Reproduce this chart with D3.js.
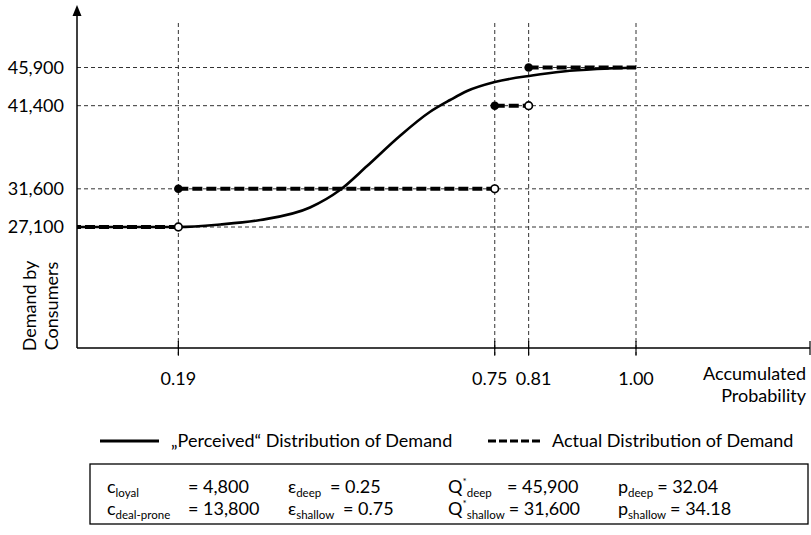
<!DOCTYPE html>
<html>
<head>
<meta charset="utf-8">
<script src="https://cdn.jsdelivr.net/npm/d3@7"></script>
<style>
  html, body { margin: 0; padding: 0; background: #fff; }
  svg { display: block; font-family: Lato, "Open Sans", sans-serif; }
</style>
</head>
<body>
<svg id="chart" width="811" height="535"></svg>
<script>
// ---- data ----
const yTicks = [27100, 31600, 41400, 45900];
const xTicks = [0.19, 0.75, 0.81, 1.00];
const perceivedX = [0, 0.19, 0.264, 0.335, 0.423, 0.476, 0.524, 0.582, 0.635, 0.671, 0.701, 0.750, 0.816, 0.871, 0.931, 1.00];
const perceivedY = [27100, 27100, 27395, 27925, 29400, 31460, 34290, 37830, 40655, 42070, 43130, 44190, 44960, 45430, 45720, 45900];
const actualSegments = [
  { x0: 0,    x1: 0.19, y: 27100, startDot: false, endOpen: true },
  { x0: 0.19, x1: 0.75, y: 31600, startDot: true,  endOpen: true },
  { x0: 0.75, x1: 0.81, y: 41400, startDot: true,  endOpen: true },
  { x0: 0.81, x1: 1.00, y: 45900, startDot: true,  endOpen: false }
];
const legendLabels = ["\u201EPerceived\u201C Distribution of Demand", "Actual Distribution of Demand"];
const paramRows = [
  [ {b:"c", sup:"", sub:"loyal", v:"= 4,800"}, {b:"\u03B5", sup:"", sub:"deep", v:"= 0.25"}, {b:"Q", sup:"*", sub:"deep", v:"= 45,900"}, {b:"p", sup:"", sub:"deep", v:"= 32.04"} ],
  [ {b:"c", sup:"", sub:"deal-prone", v:"= 13,800"}, {b:"\u03B5", sup:"", sub:"shallow", v:"= 0.75"}, {b:"Q", sup:"*", sub:"shallow", v:"= 31,600"}, {b:"p", sup:"", sub:"shallow", v:"= 34.18"} ]
];

// ---- layout ----
const svg = d3.select("#chart");
const axisX = 77, axisY = 348, rightEnd = 810, topEnd = 5;
const x = d3.scaleLinear().domain([0, 1]).range([71, 636]);
const y = d3.scaleLinear().domain([27100, 45900]).range([227, 67.5]);
const FS = 18;

svg.append("defs").append("clipPath").attr("id", "plotclip")
  .append("rect").attr("x", axisX).attr("y", 0).attr("width", rightEnd - axisX).attr("height", axisY);

// grid lines
const grid = svg.append("g").attr("stroke", "#333").attr("stroke-width", 1).attr("stroke-dasharray", "4,3");
grid.selectAll("line.h").data(yTicks).join("line")
  .attr("x1", axisX).attr("x2", 811).attr("y1", d => y(d)).attr("y2", d => y(d));
grid.selectAll("line.v").data(xTicks).join("line")
  .attr("x1", d => x(d)).attr("x2", d => x(d)).attr("y1", 23).attr("y2", 357);

// axes
svg.append("line").attr("x1", axisX).attr("x2", axisX).attr("y1", 12).attr("y2", axisY).attr("stroke", "#000").attr("stroke-width", 1.5);
svg.append("path").attr("d", `M${axisX},${topEnd} L${axisX-4.5},${topEnd+11} L${axisX+4.5},${topEnd+11} Z`).attr("fill", "#000");
svg.append("line").attr("x1", axisX).attr("x2", rightEnd).attr("y1", axisY).attr("y2", axisY).attr("stroke", "#000").attr("stroke-width", 1.5);
svg.selectAll("line.xt").data(xTicks).join("line")
  .attr("x1", d => x(d)).attr("x2", d => x(d)).attr("y1", axisY - 7).attr("y2", axisY + 7)
  .attr("stroke", "#000").attr("stroke-width", 1.2);
svg.append("line").attr("x1", rightEnd).attr("x2", rightEnd).attr("y1", axisY - 7).attr("y2", axisY + 7).attr("stroke", "#000").attr("stroke-width", 1.2);

// tick labels
const fmt = d3.format(",");
svg.selectAll("text.yl").data(yTicks).join("text")
  .attr("x", 64).attr("y", d => y(d)).attr("dy", "0.36em").attr("text-anchor", "end")
  .attr("font-size", FS).text(d => fmt(d));
const nudge = d => d === 0.75 ? -5 : (d === 0.81 ? 5 : 0);
svg.selectAll("text.xl").data(xTicks).join("text")
  .attr("x", d => x(d) + nudge(d)).attr("y", 385).attr("text-anchor", "middle")
  .attr("font-size", FS).text(d => d3.format(".2f")(d));

// axis titles
svg.append("text").attr("x", 806).attr("y", 380).attr("text-anchor", "end").attr("font-size", FS).text("Accumulated");
svg.append("text").attr("x", 806).attr("y", 402).attr("text-anchor", "end").attr("font-size", FS).text("Probability");
svg.append("text").attr("transform", "translate(36,306) rotate(-90)").attr("text-anchor", "middle").attr("font-size", FS).text("Demand by");
svg.append("text").attr("transform", "translate(58,306) rotate(-90)").attr("text-anchor", "middle").attr("font-size", FS).text("Consumers");

// curves
const plot = svg.append("g").attr("clip-path", "url(#plotclip)");
const pts = perceivedX.map((d, i) => [d, perceivedY[i]]);
plot.append("path").datum(pts)
  .attr("d", d3.line().x(d => x(d[0])).y(d => y(d[1])).curve(d3.curveMonotoneX))
  .attr("fill", "none").attr("stroke", "#000").attr("stroke-width", 2.6);

plot.selectAll("line.seg").data(actualSegments).join("line")
  .attr("x1", d => x(d.x0)).attr("x2", d => x(d.x1)).attr("y1", d => y(d.y)).attr("y2", d => y(d.y))
  .attr("stroke", "#000").attr("stroke-width", 4).attr("stroke-dasharray", "10,4");

svg.selectAll("circle.fd").data(actualSegments.filter(d => d.startDot)).join("circle")
  .attr("cx", d => x(d.x0)).attr("cy", d => y(d.y)).attr("r", 4.3).attr("fill", "#000");
svg.selectAll("circle.od").data(actualSegments.filter(d => d.endOpen)).join("circle")
  .attr("cx", d => x(d.x1)).attr("cy", d => y(d.y)).attr("r", 3.8).attr("fill", "#fff").attr("stroke", "#000").attr("stroke-width", 1.7);

// legend
svg.append("line").attr("x1", 100).attr("x2", 159).attr("y1", 441).attr("y2", 441).attr("stroke", "#000").attr("stroke-width", 3.2);
svg.append("text").attr("x", 171).attr("y", 447).attr("font-size", FS).text(legendLabels[0]);
svg.append("line").attr("x1", 488).attr("x2", 540).attr("y1", 441).attr("y2", 441).attr("stroke", "#000").attr("stroke-width", 3.2).attr("stroke-dasharray", "8,3");
svg.append("text").attr("x", 552).attr("y", 447).attr("font-size", FS).text(legendLabels[1]);

// parameter box
svg.append("rect").attr("x", 90).attr("y", 464).attr("width", 718).attr("height", 60)
  .attr("fill", "none").attr("stroke", "#000").attr("stroke-width", 1.3);
const colX = [107, 288, 448, 618];
const valX = [[188, 330, 507, 657], [188, 343, 502, 652]];
paramRows.forEach((row, ri) => {
  const by = 493 + ri * 21.5;
  row.forEach((c, ci) => {
    const t = svg.append("text").attr("x", colX[ci]).attr("y", by).attr("font-size", FS);
    t.append("tspan").text(c.b);
    if (c.sup) t.append("tspan").attr("font-size", 10).attr("dy", -8).text(c.sup);
    t.append("tspan").attr("font-size", 11.5).attr("dy", c.sup ? 12 : 4).text(c.sub);
    const labelEnd = colX[ci] + t.node().getComputedTextLength();
    const vx = Math.max(valX[ri][ci], labelEnd + 4);
    svg.append("text").attr("x", vx).attr("y", by).attr("font-size", FS).text(c.v);
  });
});
</script>
</body>
</html>
